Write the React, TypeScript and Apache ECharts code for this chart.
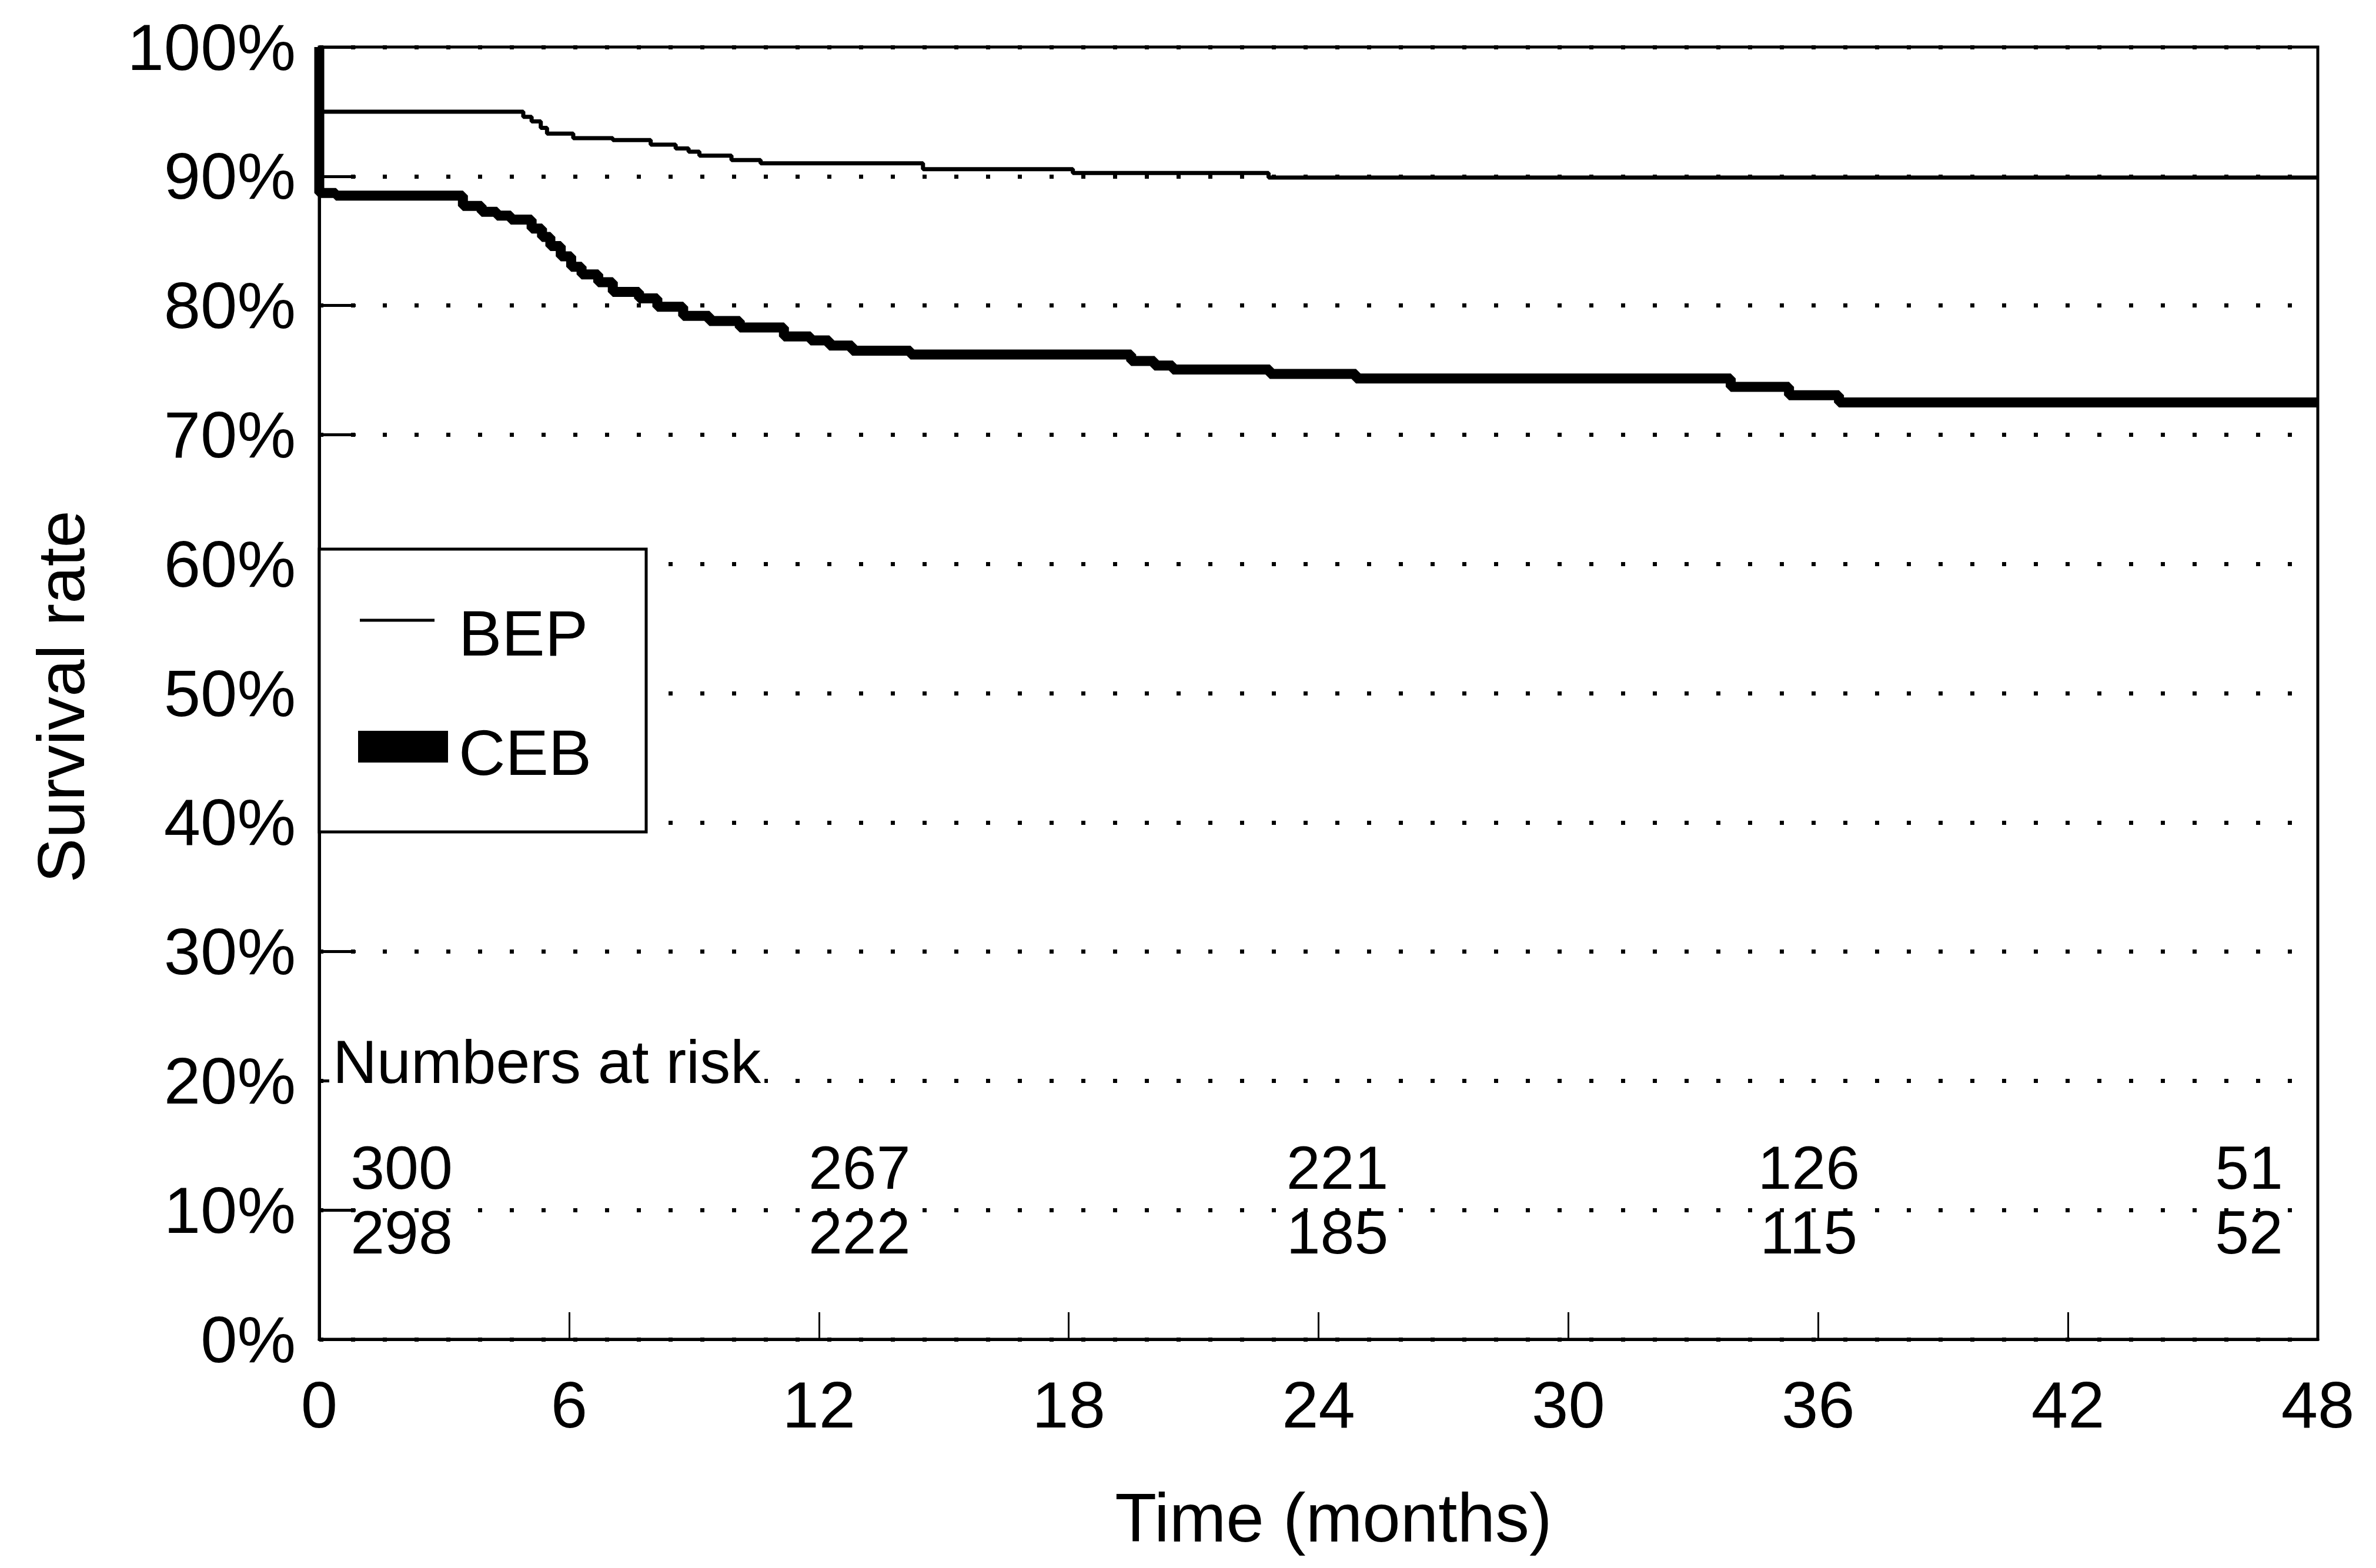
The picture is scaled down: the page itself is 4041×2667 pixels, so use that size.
import React, { useEffect, useRef } from "react";
import * as echarts from "echarts";

// ---- data ----
const seriesNames = ["BEP", "CEB"];

const xTickValues = [0, 6, 12, 18, 24, 30, 36, 42, 48];
const yTickValues = [0, 10, 20, 30, 40, 50, 60, 70, 80, 90, 100];

// Kaplan-Meier steps: value holds from the given time onward
const bepTimes = [0, 0, 4.9, 5.1, 5.32, 5.47, 6.1, 7.05, 7.96, 8.56, 8.87, 9.13, 9.9, 10.6, 14.5, 18.1, 22.8, 48];
const bepSurv = [100, 95.0, 94.6, 94.25, 93.75, 93.3, 92.95, 92.8, 92.45, 92.15, 91.9, 91.6, 91.25, 91.0, 90.55, 90.25, 89.9, 89.9];

const cebTimes = [0, 0, 0.4, 3.45, 3.9, 4.27, 4.6, 5.1, 5.35, 5.55, 5.8, 6.05, 6.3, 6.7, 7.05, 7.68, 8.12, 8.74, 9.37, 10.1, 11.16, 11.8, 12.25, 12.8, 14.2, 19.5, 20.06, 20.5, 22.83, 24.9, 33.9, 35.3, 36.5, 48];
const cebSurv = [100, 88.7, 88.5, 87.7, 87.25, 86.95, 86.65, 85.95, 85.3, 84.6, 83.8, 83.0, 82.4, 81.8, 81.05, 80.55, 79.9, 79.2, 78.8, 78.3, 77.6, 77.3, 76.9, 76.5, 76.2, 75.7, 75.35, 75.05, 74.7, 74.35, 73.7, 73.05, 72.5, 72.5];

const riskTimes = [0, 12, 24, 36, 48];
const bepAtRisk = [300, 267, 221, 126, 51];
const cebAtRisk = [298, 222, 185, 115, 52];

// ---- layout (not data) ----
const FONT = "'Liberation Sans', Arial, Helvetica, sans-serif";
const GRID = { left: 543, right: 99, top: 80, bottom: 389 };
const riskLabelDx = [140, 69, 32, -16, -117];
const riskRowLevel = [13.3, 8.3];

export default function App() {
  const ref = useRef<HTMLDivElement>(null);

  useEffect(() => {
    if (!ref.current) return;
    const chart = echarts.init(ref.current, undefined, { renderer: "svg" });

    const riskSeries = [bepAtRisk, cebAtRisk].map((row, r) => ({
      type: "scatter",
      name: "risk" + r,
      symbolSize: 0,
      silent: true,
      itemStyle: { color: "rgba(255,255,255,0)", opacity: 1 },
      label: { show: true, color: "#000", opacity: 1 },
      z: 5,
      data: riskTimes.map((t, i) => ({
        value: [t, riskRowLevel[r]],
        label: {
          show: true,
          position: "inside",
          formatter: String(row[i]),
          offset: [riskLabelDx[i], 0],
          color: "#000",
          opacity: 1,
          fontSize: 104,
          fontFamily: FONT,
        },
      })),
    }));

    const option: any = {
      animation: false,
      backgroundColor: "#fff",
      grid: {
        left: GRID.left,
        right: GRID.right,
        top: GRID.top,
        bottom: GRID.bottom,
        show: true,
        borderColor: "#000",
        borderWidth: 5,
        backgroundColor: "transparent",
      },
      xAxis: {
        type: "value",
        min: xTickValues[0],
        max: xTickValues[xTickValues.length - 1],
        interval: xTickValues[1] - xTickValues[0],
        axisLine: { show: true, lineStyle: { color: "#000", width: 5 } },
        axisTick: { show: true, inside: true, length: 46, lineStyle: { color: "#000", width: 3 } },
        axisLabel: { color: "#000", fontSize: 112, fontFamily: FONT, margin: 55 },
        splitLine: { show: false },
      },
      yAxis: {
        type: "value",
        min: yTickValues[0],
        max: yTickValues[yTickValues.length - 1],
        interval: yTickValues[1] - yTickValues[0],
        axisLine: { show: true, lineStyle: { color: "#000", width: 5 } },
        axisTick: { show: true, inside: true, length: 62, lineStyle: { color: "#000", width: 5 } },
        axisLabel: { color: "#000", fontSize: 112, fontFamily: FONT, margin: 40, formatter: "{value}%" },
        splitLine: { show: true, lineStyle: { color: "#000", width: 7, type: [7, 47] } },
      },
      series: [
        {
          type: "line",
          name: seriesNames[0],
          step: "end",
          symbol: "none",
          showSymbol: false,
          lineStyle: { color: "#000", width: 7 },
          z: 3,
          data: bepTimes.map((t, i) => [t, bepSurv[i]]),
        },
        {
          type: "line",
          name: seriesNames[1],
          step: "end",
          symbol: "none",
          showSymbol: false,
          lineStyle: { color: "#000", width: 17 },
          z: 4,
          data: cebTimes.map((t, i) => [t, cebSurv[i]]),
        },
        ...riskSeries,
      ],
      graphic: [
        {
          type: "rect",
          z: 100,
          shape: { x: 543, y: 934, width: 556, height: 481 },
          style: { fill: "#fff", stroke: "#000", lineWidth: 5 },
        },
        {
          type: "line",
          z: 101,
          shape: { x1: 612, y1: 1055, x2: 739, y2: 1055 },
          style: { stroke: "#000", lineWidth: 5 },
        },
        {
          type: "text",
          z: 101,
          x: 780,
          y: 1076,
          style: { text: seriesNames[0], fontSize: 110, fontFamily: FONT, fill: "#000", align: "left", verticalAlign: "middle" },
        },
        {
          type: "rect",
          z: 101,
          shape: { x: 609, y: 1243, width: 153, height: 54 },
          style: { fill: "#000" },
        },
        {
          type: "text",
          z: 101,
          x: 780,
          y: 1279,
          style: { text: seriesNames[1], fontSize: 110, fontFamily: FONT, fill: "#000", align: "left", verticalAlign: "middle" },
        },
        {
          type: "text",
          z: 100,
          x: 560,
          y: 1806,
          style: {
            text: "Numbers at risk",
            fontSize: 104,
            fontFamily: FONT,
            fill: "#000",
            align: "left",
            verticalAlign: "middle",
            backgroundColor: "#fff",
            padding: [0, 6, 0, 6],
          },
        },
        {
          type: "text",
          z: 100,
          x: 103,
          y: 1185,
          rotation: Math.PI / 2,
          style: { text: "Survival rate", fontSize: 114, fontFamily: FONT, fill: "#000", align: "center", verticalAlign: "middle" },
        },
        {
          type: "text",
          z: 100,
          x: 2268,
          y: 2582,
          style: { text: "Time (months)", fontSize: 116, fontFamily: FONT, fill: "#000", align: "center", verticalAlign: "middle" },
        },
      ],
    };

    chart.setOption(option);
    return () => chart.dispose();
  }, []);

  return (
    <div
      ref={ref}
      style={{ position: "fixed", left: 0, top: 0, width: 4041, height: 2667, background: "#fff" }}
    />
  );
}
